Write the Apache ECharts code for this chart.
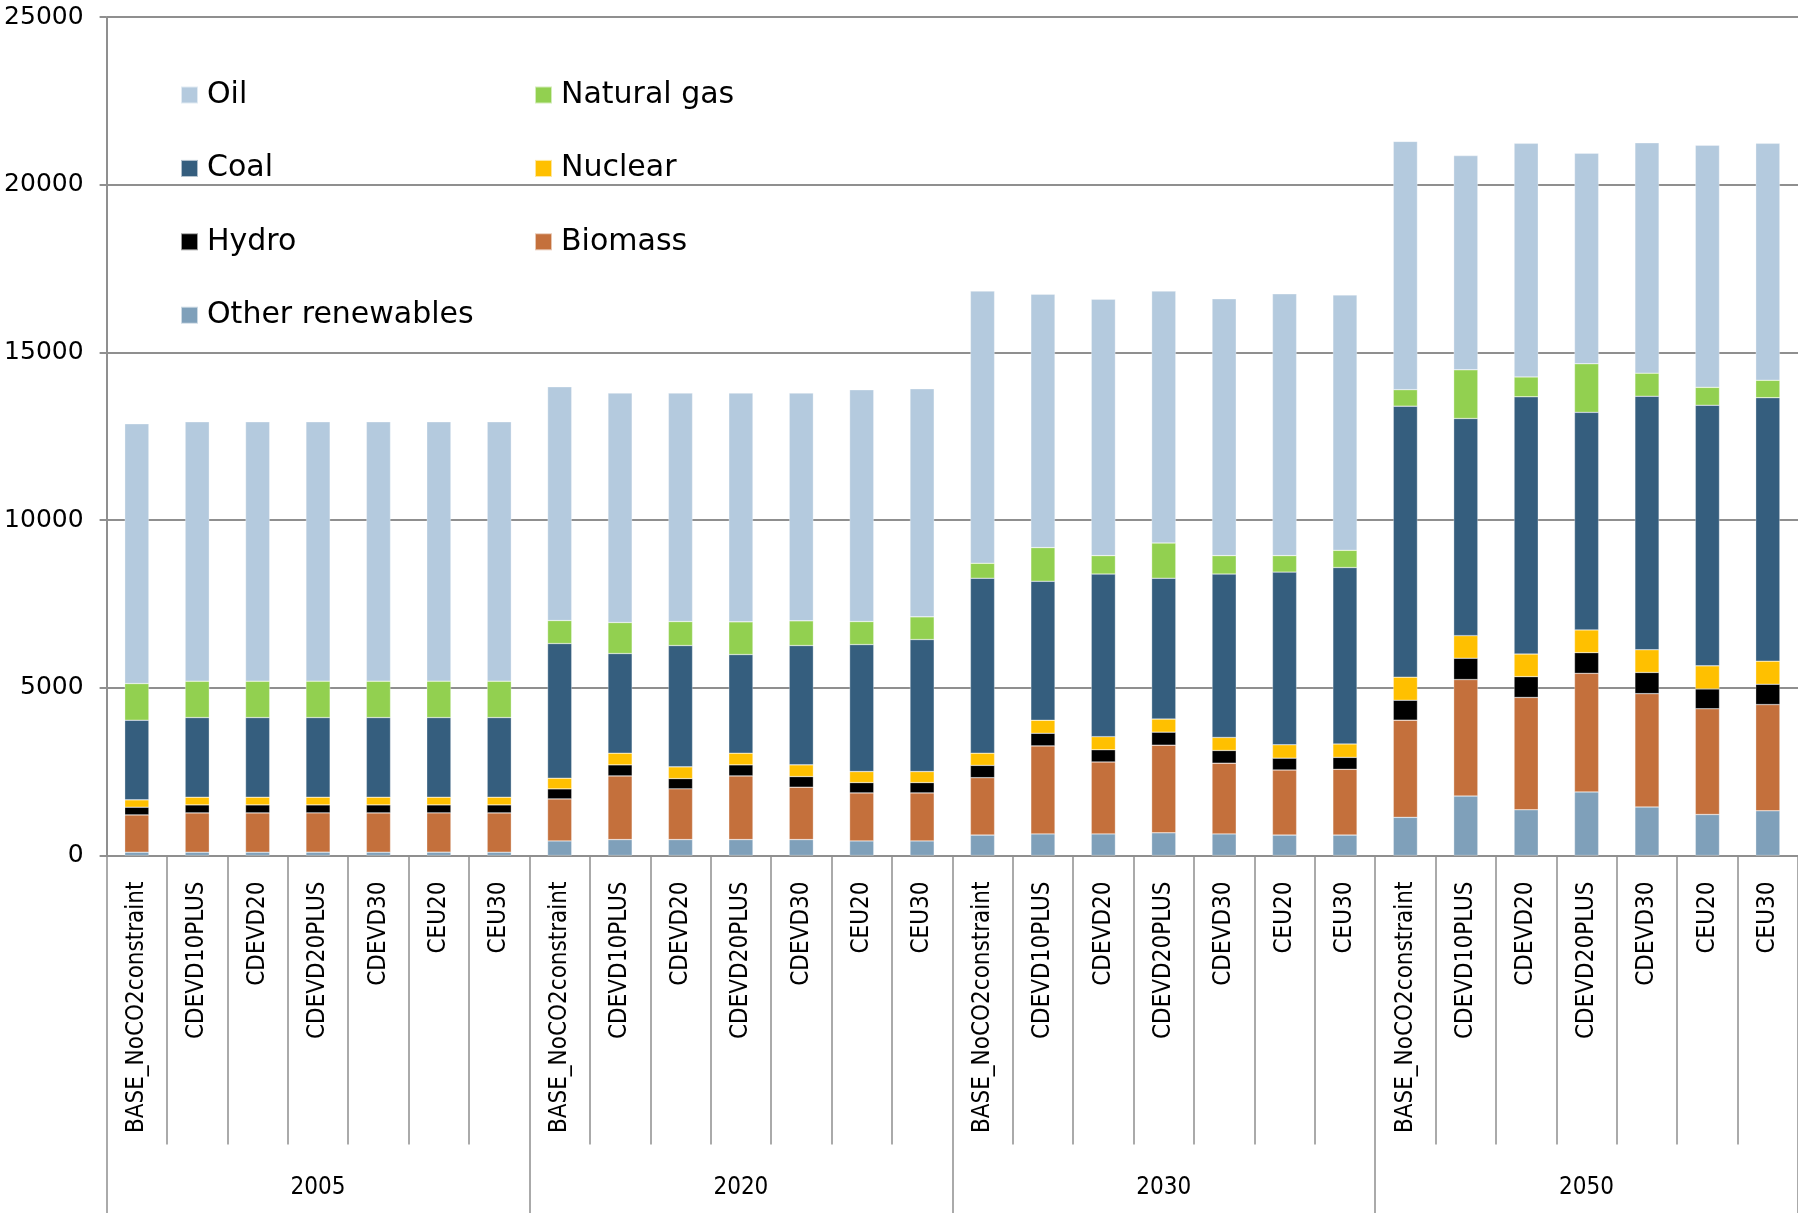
<!DOCTYPE html>
<html>
<head>
<meta charset="utf-8">
<script src="https://cdn.jsdelivr.net/npm/echarts@6/dist/echarts.min.js"></script>
<style>
html,body{margin:0;padding:0;background:#fff;}
#chart{width:1798px;height:1213px;}
</style>
</head>
<body>
<div id="chart"></div>
<script>
// ---- Data ----
const years = ['2005', '2020', '2030', '2050'];
const scenarios = ['BASE_NoCO2constraint', 'CDEVD10PLUS', 'CDEVD20', 'CDEVD20PLUS', 'CDEVD30', 'CEU20', 'CEU30'];
const yTicks = [0, 5000, 10000, 15000, 20000, 25000];

const otherRenewables = [
  100, 100, 100, 100, 100, 100, 100,
  435, 475, 475, 475, 475, 435, 435,
  609, 644, 644, 677, 644, 609, 609,
  1137, 1772, 1363, 1897, 1447, 1223, 1333
];
const biomass = [
  1111, 1171, 1171, 1171, 1171, 1171, 1171,
  1253, 1899, 1512, 1899, 1562, 1432, 1432,
  1712, 2625, 2145, 2613, 2109, 1941, 1962,
  2899, 3475, 3350, 3535, 3380, 3153, 3168
];
const hydro = [
  229, 238, 238, 238, 238, 238, 238,
  299, 329, 307, 329, 317, 308, 308,
  367, 376, 364, 388, 379, 353, 355,
  594, 636, 621, 618, 632, 591, 606
];
const nuclear = [
  219, 230, 230, 230, 230, 230, 230,
  319, 349, 349, 349, 349, 328, 328,
  364, 388, 391, 391, 388, 399, 400,
  689, 674, 674, 677, 677, 689, 689
];
const coal = [
  2376, 2375, 2375, 2375, 2375, 2375, 2375,
  4015, 2971, 3619, 2941, 3559, 3788, 3937,
  5217, 4144, 4850, 4200, 4874, 5149, 5262,
  8081, 6476, 7672, 6488, 7559, 7771, 7857
];
const naturalGas = [
  1093, 1085, 1085, 1085, 1085, 1085, 1085,
  686, 925, 715, 975, 736, 686, 677,
  445, 1005, 549, 1050, 549, 492, 513,
  492, 1450, 591, 1450, 689, 534, 519
];
const oil = [
  7747, 7735, 7735, 7735, 7735, 7735, 7735,
  6971, 6842, 6813, 6822, 6792, 6912, 6802,
  8117, 7559, 7649, 7512, 7660, 7807, 7616,
  7404, 6389, 6968, 6279, 6870, 7221, 7067
];

// ---- Build ----
const categories = [];
years.forEach(y => scenarios.forEach(s => categories.push(y + '|' + s)));

const FONT = '"DejaVu Sans", sans-serif';
const FONT_COND = '"DejaVu Sans Condensed", "DejaVu Sans", sans-serif';
const GRAY = '#8f8f8f';

const seriesDefs = [
  {name: 'Other renewables', data: otherRenewables, color: '#7FA0BA'},
  {name: 'Biomass', data: biomass, color: '#C4703C'},
  {name: 'Hydro', data: hydro, color: '#000000'},
  {name: 'Nuclear', data: nuclear, color: '#FFC000'},
  {name: 'Coal', data: coal, color: '#355E7E'},
  {name: 'Natural gas', data: naturalGas, color: '#92D050'},
  {name: 'Oil', data: oil, color: '#B4CADE'}
];

const legendCommon = {
  orient: 'vertical',
  icon: 'rect',
  itemWidth: 17,
  itemHeight: 17,
  itemGap: 37.4,
  padding: 0,
  selectedMode: false,
  textStyle: {fontFamily: FONT, fontSize: 30, color: '#000', lineHeight: 36, padding: [0, 0, 0, 4]}
};

const option = {
  animation: false,
  backgroundColor: '#fff',
  textStyle: {fontFamily: FONT},
  legend: [
    Object.assign({}, legendCommon, {left: 180, top: 77, data: ['Oil', 'Coal', 'Hydro', 'Other renewables']}),
    Object.assign({}, legendCommon, {left: 534, top: 77, data: ['Natural gas', 'Nuclear', 'Biomass']})
  ],
  grid: {left: 106.6, right: 0, top: 17.2, bottom: 357.5, containLabel: false},
  xAxis: [
    {
      type: 'category',
      data: categories,
      position: 'bottom',
      axisLine: {show: true, lineStyle: {color: GRAY, width: 2}},
      axisTick: {show: true, interval: 0, length: 289, lineStyle: {color: GRAY, width: 1.5}},
      axisLabel: {
        interval: 0, rotate: 90, margin: 26,
        fontFamily: FONT_COND, fontSize: 24, color: '#000',
        formatter: v => v.split('|')[1]
      },
      splitLine: {show: false}
    },
    {
      type: 'category',
      data: years,
      position: 'bottom',
      axisLine: {show: false},
      axisTick: {show: true, interval: 0, length: 358, lineStyle: {color: GRAY, width: 1.5}},
      axisLabel: {interval: 0, margin: 320, fontFamily: FONT_COND, fontSize: 24, color: '#000'},
      splitLine: {show: false}
    }
  ],
  yAxis: {
    type: 'value',
    min: yTicks[0],
    max: yTicks[yTicks.length - 1],
    interval: 5000,
    axisLine: {show: true, lineStyle: {color: GRAY, width: 2}},
    axisTick: {show: true, length: 7, lineStyle: {color: GRAY, width: 2}},
    axisLabel: {fontFamily: FONT, fontSize: 25, color: '#000', margin: 23, formatter: v => String(v)},
    splitLine: {show: true, lineStyle: {color: GRAY, width: 2}}
  },
  series: seriesDefs.map(d => ({
    name: d.name,
    type: 'bar',
    stack: 'total',
    xAxisIndex: 0,
    barWidth: '40%',
    data: d.data,
    itemStyle: {color: d.color, borderColor: 'rgba(255,255,255,0.6)', borderWidth: 0.5},
    emphasis: {disabled: true}
  }))
};

const chart = echarts.init(document.getElementById('chart'), null, {renderer: 'canvas'});
chart.setOption(option);
</script>
</body>
</html>
